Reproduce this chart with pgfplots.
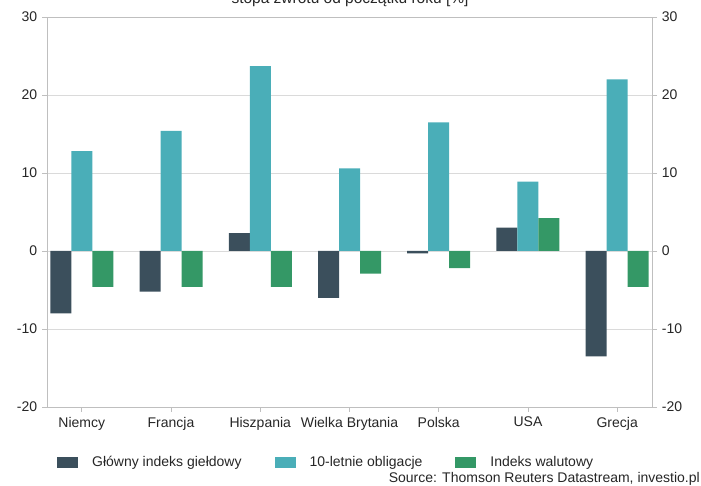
\documentclass[border=0pt]{standalone}
\usepackage{fontspec}
\setmainfont{Liberation Sans}
\usepackage{pgfplots}
\pgfplotsset{compat=1.18}
\definecolor{cDark}{HTML}{3B4F5C}
\definecolor{cTeal}{HTML}{4AAEB8}
\definecolor{cGreen}{HTML}{349866}
\definecolor{cGrid}{HTML}{DADADA}
\definecolor{cAxis}{HTML}{BFBFBF}
\definecolor{cText}{HTML}{262626}
\pgfplotsset{
  sqleg/.style={legend image code/.code={\fill[##1] (0pt,-5.5pt) rectangle (21pt,5.5pt);}},
  common/.style={
    at={(47pt,79pt)}, anchor=south west,
    scale only axis, width=605pt, height=390pt,
    xmin=-0.39, xmax=6.39, ymin=-20, ymax=30,
    ytick={-20,-10,0,10,20,30}, yticklabels={-20,-10,0,10,20,30},
    tick align=outside, major tick length=5pt,
    tick style={cAxis, line width=0.8pt},
    axis line style={cAxis, line width=0.8pt},
    tick label style={font=\fontsize{14}{16}\selectfont, text=cText},
  }
}
\begin{document}
\fontsize{14}{16}\selectfont
\begin{tikzpicture}[x=1pt,y=1pt]
\useasboundingbox (0,0) rectangle (701,486);
\begin{axis}[common,
  ybar=0pt, bar width=21pt,
  xtick={0,...,6},
  xticklabels={Niemcy,Francja,Hiszpania,Wielka Brytania,Polska,USA,Grecja},
  xtick pos=left, ytick pos=left,
  ymajorgrids, grid style={cGrid, line width=0.8pt},
  legend columns=3,
  legend style={at={(axis description cs:0.0165,-0.142)}, anchor=west,
    draw=none, fill=none, inner sep=0pt,
    font=\fontsize{14}{16}\selectfont, text=cText,
    /tikz/every odd column/.append style={column sep=12pt},
    /tikz/every even column/.append style={column sep=31pt}},
  legend cell align=left,
]
\addplot[fill=cDark, draw=none, sqleg] coordinates {(0,-8.0) (1,-5.2) (2,2.3) (3,-6.0) (4,-0.3) (5,3.0) (6,-13.5)};
\addlegendentry{Główny indeks giełdowy}
\addplot[fill=cTeal, draw=none, sqleg] coordinates {(0,12.8) (1,15.4) (2,23.7) (3,10.6) (4,16.5) (5,8.9) (6,22.0)};
\addlegendentry{10-letnie obligacje}
\addplot[fill=cGreen, draw=none, sqleg] coordinates {(0,-4.6) (1,-4.6) (2,-4.6) (3,-2.9) (4,-2.2) (5,4.2) (6,-4.6)};
\addlegendentry{Indeks walutowy}
\end{axis}
\begin{axis}[common,
  axis x line=none, axis y line*=right,
]
\addplot[draw=none] coordinates {(0,0)};
\end{axis}
\node[anchor=base, text=cText, inner sep=0pt, font=\fontsize{15.5}{17}\selectfont] at (350,482) {stopa zwrotu od początku roku [\%]};
\node[anchor=base east, text=cText, inner sep=0pt] at (700,3) {Source: Thomson Reuters Datastream, investio.pl};
\end{tikzpicture}
\end{document}
